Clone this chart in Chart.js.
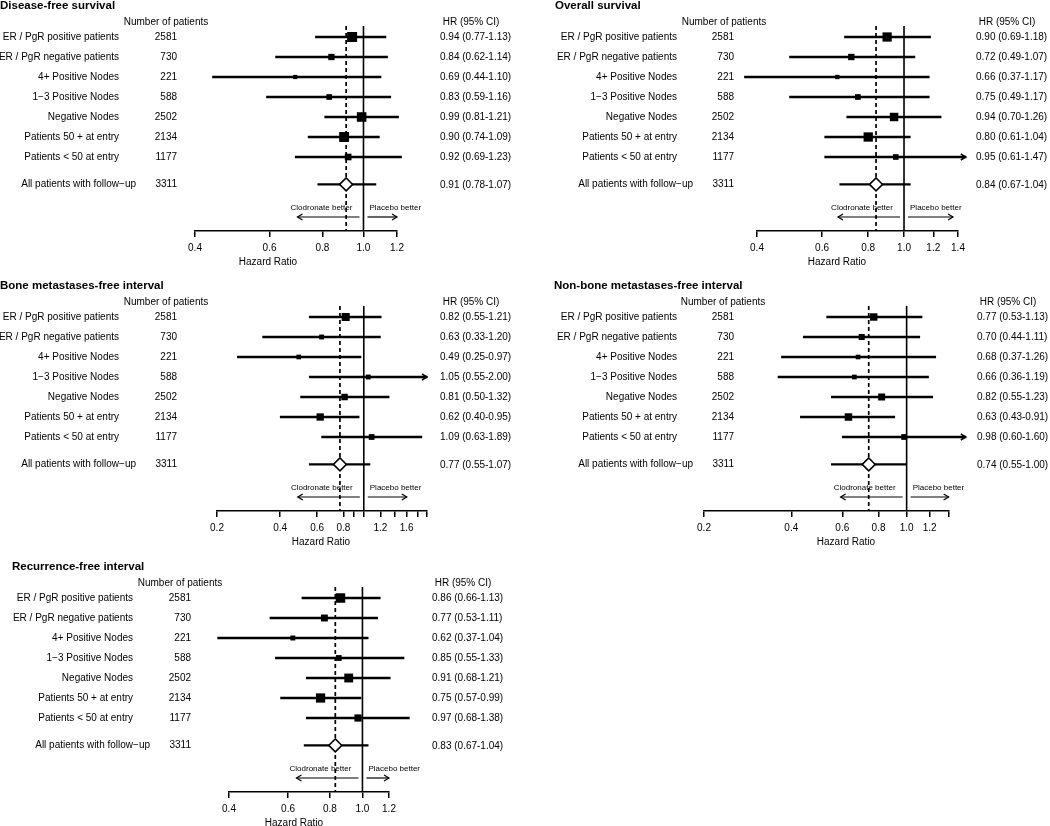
<!DOCTYPE html>
<html>
<head>
<meta charset="utf-8">
<script src="https://cdn.jsdelivr.net/npm/chart.js@4.4.1/dist/chart.umd.min.js"></script>
<style>
html,body{margin:0;padding:0;background:#fff;}
body{width:1050px;height:826px;position:relative;overflow:hidden;}
canvas{position:absolute;display:block;}
</style>
</head>
<body>
<canvas id="c0" width="525" height="280" style="left:0px;top:0px"></canvas>
<canvas id="c1" width="525" height="280" style="left:525px;top:0px"></canvas>
<canvas id="c2" width="525" height="280" style="left:0px;top:280px"></canvas>
<canvas id="c3" width="525" height="280" style="left:525px;top:280px"></canvas>
<canvas id="c4" width="525" height="265" style="left:0px;top:561px"></canvas>
<script>
// ================= DATA =================
const subgroupLabels = ["ER / PgR positive patients", "ER / PgR negative patients", "4+ Positive Nodes",
  "1\u22123 Positive Nodes", "Negative Nodes", "Patients 50 + at entry", "Patients < 50 at entry"];
const overallLabel = "All patients with follow\u2212up";
const patients = [2581, 730, 221, 588, 2502, 2134, 1177];
const overallPatients = 3311;
const headerPatients = "Number of patients";
const headerHR = "HR (95% CI)";
const xAxisTitle = "Hazard Ratio";
const favourLeft = "Clodronate better";
const favourRight = "Placebo better";

const dfsTitle = "Disease-free survival";
const dfsHR = [0.94, 0.84, 0.69, 0.83, 0.99, 0.90, 0.92];
const dfsLo = [0.77, 0.62, 0.44, 0.59, 0.81, 0.74, 0.69];
const dfsHi = [1.13, 1.14, 1.10, 1.16, 1.21, 1.09, 1.23];
const dfsOverall = [0.91, 0.78, 1.07];
const dfsTicks = [0.4, 0.6, 0.8, 1.0, 1.2];
const dfsTickLabels = ["0.4", "0.6", "0.8", "1.0", "1.2"];

const osTitle = "Overall survival";
const osHR = [0.90, 0.72, 0.66, 0.75, 0.94, 0.80, 0.95];
const osLo = [0.69, 0.49, 0.37, 0.49, 0.70, 0.61, 0.61];
const osHi = [1.18, 1.07, 1.17, 1.17, 1.26, 1.04, 1.47];
const osOverall = [0.84, 0.67, 1.04];
const osTicks = [0.4, 0.6, 0.8, 1.0, 1.2, 1.4];
const osTickLabels = ["0.4", "0.6", "0.8", "1.0", "1.2", "1.4"];

const bmTitle = "Bone metastases-free interval";
const bmHR = [0.82, 0.63, 0.49, 1.05, 0.81, 0.62, 1.09];
const bmLo = [0.55, 0.33, 0.25, 0.55, 0.50, 0.40, 0.63];
const bmHi = [1.21, 1.20, 0.97, 2.00, 1.32, 0.95, 1.89];
const bmOverall = [0.77, 0.55, 1.07];
const bmTicks = [0.2, 0.4, 0.6, 0.8, 0.9, 1.0, 1.2, 1.4, 1.6, 1.8, 2.0];
const bmTickLabels = ["0.2", "0.4", "0.6", "0.8", "", "", "1.2", "", "1.6", "", ""];

const nbmTitle = "Non-bone metastases-free interval";
const nbmHR = [0.77, 0.70, 0.68, 0.66, 0.82, 0.63, 0.98];
const nbmLo = [0.53, 0.44, 0.37, 0.36, 0.55, 0.43, 0.60];
const nbmHi = [1.13, 1.11, 1.26, 1.19, 1.23, 0.91, 1.60];
const nbmOverall = [0.74, 0.55, 1.00];
const nbmTicks = [0.2, 0.4, 0.6, 0.8, 1.0, 1.2, 1.4];
const nbmTickLabels = ["0.2", "0.4", "0.6", "0.8", "1.0", "1.2", ""];

const rfiTitle = "Recurrence-free interval";
const rfiHR = [0.86, 0.77, 0.62, 0.85, 0.91, 0.75, 0.97];
const rfiLo = [0.66, 0.53, 0.37, 0.55, 0.68, 0.57, 0.68];
const rfiHi = [1.13, 1.11, 1.04, 1.33, 1.21, 0.99, 1.38];
const rfiOverall = [0.83, 0.67, 1.04];
const rfiTicks = [0.4, 0.6, 0.8, 1.0, 1.2];
const rfiTickLabels = ["0.4", "0.6", "0.8", "1.0", "1.2"];

// ================= LAYOUT / STYLE =================
const FONT = '"Liberation Sans", Arial, Helvetica, sans-serif';
const ROWS = [0, 1, 2, 3, 4, 5, 6];
const OVERALL_ROW = 7.37;
const Y_TOP = -0.55, Y_BOTTOM = 9.7;

const panels = [
  { id: 'c0', title: dfsTitle, hr: dfsHR, lo: dfsLo, hi: dfsHi, overall: dfsOverall, ticks: dfsTicks, tickLabels: dfsTickLabels,
    L: { h: 280, titleX: 0, labelR: 119, sumLabelR: 136, numR: 177, numHeadC: 166, hrL: 440, hrHeadC: 471, axisL: 195, axisR: 397, xlabC: 268, maxBox: 10, arrowAt: Infinity, rightArrowMax: 36 } },
  { id: 'c1', title: osTitle, hr: osHR, lo: osLo, hi: osHi, overall: osOverall, ticks: osTicks, tickLabels: osTickLabels,
    L: { h: 280, titleX: 30, labelR: 152, sumLabelR: 168, numR: 209, numHeadC: 199, hrL: 451, hrHeadC: 482, axisL: 232, axisR: 433, xlabC: 312, maxBox: 9.3, arrowAt: 1.4, rightArrowMax: 49 } },
  { id: 'c2', title: bmTitle, hr: bmHR, lo: bmLo, hi: bmHi, overall: bmOverall, ticks: bmTicks, tickLabels: bmTickLabels,
    L: { h: 280, titleX: 0, labelR: 119, sumLabelR: 136, numR: 177, numHeadC: 166, hrL: 440, hrHeadC: 471, axisL: 217, axisR: 427, xlabC: 321, maxBox: 8, arrowAt: 2.0, rightArrowMax: 43 } },
  { id: 'c3', title: nbmTitle, hr: nbmHR, lo: nbmLo, hi: nbmHi, overall: nbmOverall, ticks: nbmTicks, tickLabels: nbmTickLabels,
    L: { h: 280, titleX: 29, labelR: 152, sumLabelR: 168, numR: 209, numHeadC: 198, hrL: 452, hrHeadC: 483, axisL: 179, axisR: 424, xlabC: 321, maxBox: 7.5, arrowAt: 1.4, rightArrowMax: 42 } },
  { id: 'c4', title: rfiTitle, hr: rfiHR, lo: rfiLo, hi: rfiHi, overall: rfiOverall, ticks: rfiTicks, tickLabels: rfiTickLabels,
    L: { h: 265, titleX: 12, labelR: 133, sumLabelR: 150, numR: 191, numHeadC: 180, hrL: 432, hrHeadC: 463, axisL: 229, axisR: 389, xlabC: 294, maxBox: 9.5, arrowAt: Infinity, rightArrowMax: 27 } }
];

const CHART_TOP = 26, AXIS_Y = 231, X_AXIS_H = 30, W = 525;

function fmt(v) { return v.toFixed(2); }

function arrowHead(ctx, x, y, dir) {
  ctx.beginPath();
  ctx.moveTo(x - dir * 5, y - 3);
  ctx.lineTo(x, y);
  ctx.lineTo(x - dir * 5, y + 3);
  ctx.stroke();
}

const forestText = {
  id: 'forestText',
  afterDraw(chart, args, o) {
    const p = o.panel, L = p.L;
    const ctx = chart.ctx, xs = chart.scales.x, ys = chart.scales.y;
    ctx.save();
    ctx.fillStyle = '#000';
    ctx.strokeStyle = '#000';
    ctx.textBaseline = 'middle';
    // title
    ctx.font = 'bold 11.5px ' + FONT;
    ctx.textAlign = 'left';
    ctx.fillText(p.title, L.titleX, 6);
    // headers
    ctx.font = '10px ' + FONT;
    ctx.textAlign = 'center';
    ctx.fillText(headerPatients, L.numHeadC, 22);
    ctx.fillText(headerHR, L.hrHeadC, 22);
    // rows
    p.hr.forEach((v, i) => {
      const py = ys.getPixelForValue(ROWS[i]);
      ctx.textAlign = 'right';
      ctx.fillText(subgroupLabels[i], L.labelR, py);
      ctx.fillText(String(patients[i]), L.numR, py);
      ctx.textAlign = 'left';
      ctx.fillText(fmt(v) + ' (' + fmt(p.lo[i]) + '-' + fmt(p.hi[i]) + ')', L.hrL, py + 0.5);
    });
    const oy = ys.getPixelForValue(OVERALL_ROW);
    ctx.textAlign = 'right';
    ctx.fillText(overallLabel, L.sumLabelR, oy);
    ctx.fillText(String(overallPatients), L.numR, oy);
    ctx.textAlign = 'left';
    ctx.fillText(fmt(p.overall[0]) + ' (' + fmt(p.overall[1]) + '-' + fmt(p.overall[2]) + ')', L.hrL, oy + 0.5);
    // axis title
    ctx.textAlign = 'center';
    ctx.fillText(xAxisTitle, L.xlabC, 262);
    // CI arrows (upper limit beyond clip)
    ctx.lineWidth = 1.5;
    p.hi.forEach((h, i) => {
      if (h >= L.arrowAt) arrowHead(ctx, xs.getPixelForValue(h), ys.getPixelForValue(ROWS[i]), 1);
    });
    // favour labels
    const x1 = xs.getPixelForValue(1);
    ctx.font = '8px ' + FONT;
    ctx.textAlign = 'center';
    ctx.fillText(favourLeft, x1 - 42, 208);
    ctx.textAlign = 'left';
    ctx.fillText(favourRight, x1 + 6, 208);
    ctx.lineWidth = 1.2;
    const ay = 217;
    ctx.beginPath(); ctx.moveTo(x1 - 4, ay); ctx.lineTo(x1 - 66, ay); ctx.stroke();
    arrowHead(ctx, x1 - 66, ay, -1);
    const rEnd = Math.min(x1 + L.rightArrowMax, xs.right);
    ctx.beginPath(); ctx.moveTo(x1 + 4, ay); ctx.lineTo(rEnd, ay); ctx.stroke();
    arrowHead(ctx, rEnd, ay, 1);
    ctx.restore();
  }
};

panels.forEach(p => {
  const L = p.L;
  const prec = p.lo.map((l, i) => 1 / Math.log(p.hi[i] / l));
  const maxPrec = Math.max(...prec);
  const boxRadius = prec.map(q => (L.maxBox * q / maxPrec) / Math.SQRT2);
  const boxData = p.hr.map((v, i) => ({ x: v, y: ROWS[i] }));
  const ciData = p.hr.map((v, i) => ({ y: ROWS[i], x: [p.lo[i], p.hi[i]] }));
  ciData.push({ y: OVERALL_ROW, x: [p.overall[1], p.overall[2]] });

  new Chart(document.getElementById(p.id), {
    type: 'scatter',
    data: {
      datasets: [
        { type: 'scatter', data: [{ x: p.overall[0], y: OVERALL_ROW }], pointStyle: 'rectRot', pointRadius: 6.5,
          backgroundColor: '#fff', borderColor: '#000', borderWidth: 1.5, order: 0, clip: false },
        { type: 'scatter', data: boxData, pointStyle: 'rect', pointRadius: boxRadius,
          backgroundColor: '#000', borderColor: '#000', borderWidth: 0, order: 1, clip: false },
        { type: 'bar', indexAxis: 'y', data: ciData, barThickness: 1.6, backgroundColor: '#000',
          borderWidth: 0, order: 2, clip: false, grouped: false },
        { type: 'line', data: [{ x: 1, y: Y_TOP }, { x: 1, y: Y_BOTTOM }], borderColor: '#000', borderWidth: 1.6,
          pointRadius: 0, order: 3 },
        { type: 'line', data: [{ x: p.overall[0], y: Y_TOP }, { x: p.overall[0], y: Y_BOTTOM }], borderColor: '#000',
          borderWidth: 1.7, borderDash: [4, 3], pointRadius: 0, order: 4 }
      ]
    },
    options: {
      responsive: false,
      animation: false,
      devicePixelRatio: 1,
      events: [],
      layout: { padding: { left: L.axisL, right: W - L.axisR, top: CHART_TOP, bottom: L.h - AXIS_Y - X_AXIS_H } },
      plugins: { legend: { display: false }, tooltip: { enabled: false }, forestText: { panel: p } },
      scales: {
        x: {
          type: 'logarithmic', min: p.ticks[0], max: p.ticks[p.ticks.length - 1], bounds: 'data', offset: false,
          afterBuildTicks: s => { s.ticks = p.ticks.map(v => ({ value: v })); },
          afterFit: s => { s.height = X_AXIS_H; },
          border: { display: true, color: '#000', width: 1.5 },
          grid: { display: true, offset: false, drawOnChartArea: false, drawTicks: true, tickLength: 6, color: '#000', lineWidth: 1.5 },
          ticks: { autoSkip: false, maxRotation: 0, minRotation: 0, padding: 5, color: '#000',
            font: { family: FONT, size: 10 }, callback: (v, i) => p.tickLabels[i] }
        },
        y: { type: 'linear', min: Y_TOP, max: Y_BOTTOM, reverse: true, display: false, offset: false, bounds: 'data',
          grid: { offset: false } }
      }
    },
    plugins: [forestText]
  });
});
</script>
</body>
</html>
